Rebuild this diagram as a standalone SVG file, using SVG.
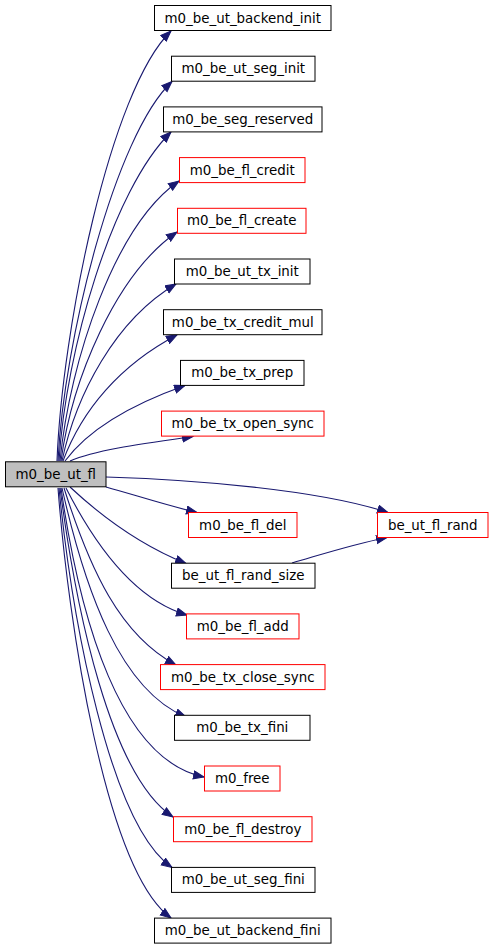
<svg xmlns="http://www.w3.org/2000/svg" width="493" height="949" viewBox="0 0 493 949">
<defs>
<style>
.n rect{fill:#ffffff;stroke:#000000;stroke-width:1}
.n.r rect{stroke:#ff0000}
.n.m rect{fill:#bfbfbf}
.n text{font-family:"DejaVu Sans",sans-serif;font-size:13.4px;fill:#000000;text-anchor:middle}
#edges path{fill:none;stroke:#191970;stroke-width:1.1;marker-end:url(#ah)}
</style>
<marker id="ah" markerUnits="userSpaceOnUse" markerWidth="13" markerHeight="10" refX="11" refY="4.5" orient="auto">
<path d="M0.5,0.5 L11,4.5 L0.5,8.5 z" fill="#191970" stroke="#191970" stroke-width="1"/>
</marker>
</defs>
<rect width="493" height="949" fill="#ffffff"/>
<g id="edges">
<path d="M57,461 C62,330 110,90 171,31"/>
<path d="M58,461 C64,340 115,135 172,81.5"/>
<path d="M59,461 C66,350 112,190 171,132"/>
<path d="M60,461 C70,360 115,225 179,181"/>
<path d="M61,461 C72,380 115,275 177,232"/>
<path d="M62,461 C76,395 115,320 176,284"/>
<path d="M63,461 C82,410 120,365 177,335"/>
<path d="M65,461 C88,430 130,405 185,385.5"/>
<path d="M70,461 C95,450 140,444 193,436.5"/>
<path d="M106,487 C135,495 165,505 197,512.5"/>
<path d="M106,477 C200,480 320,490 388,512.5"/>
<path d="M70,487 C100,515 140,545 186,563.5"/>
<path d="M66,488 C95,545 135,600 187,615"/>
<path d="M64,488 C90,570 120,635 176,665"/>
<path d="M62,488 C85,590 120,690 186,717"/>
<path d="M61,488 C80,620 120,760 204,777"/>
<path d="M60,488 C76,610 110,775 173,817"/>
<path d="M59,488 C72,620 110,825 172,867.5"/>
<path d="M58,488 C68,620 105,870 171,918"/>
<path d="M292,563 C320,555 350,545 387,537.5"/>
</g>
<g id="m0_be_ut_fl" class="n m"><rect x="5.5" y="461.8" width="100.5" height="25"/><text x="55.75" y="478.8">m0_be_ut_fl</text></g>
<g id="m0_be_ut_backend_init" class="n"><rect x="154.5" y="5.5" width="176.5" height="25"/><text x="242.75" y="22.5">m0_be_ut_backend_init</text></g>
<g id="m0_be_ut_seg_init" class="n"><rect x="171.5" y="56.2" width="143.5" height="25"/><text x="243.25" y="73.2">m0_be_ut_seg_init</text></g>
<g id="m0_be_seg_reserved" class="n"><rect x="163.5" y="106.9" width="158.5" height="25"/><text x="242.75" y="123.9">m0_be_seg_reserved</text></g>
<g id="m0_be_fl_credit" class="n r"><rect x="179.5" y="157.6" width="125.5" height="25"/><text x="242.25" y="174.6">m0_be_fl_credit</text></g>
<g id="m0_be_fl_create" class="n r"><rect x="177.5" y="208.3" width="128.5" height="25"/><text x="241.75" y="225.3">m0_be_fl_create</text></g>
<g id="m0_be_ut_tx_init" class="n"><rect x="174.5" y="259" width="135.5" height="25"/><text x="242.25" y="276">m0_be_ut_tx_init</text></g>
<g id="m0_be_tx_credit_mul" class="n"><rect x="163.5" y="309.7" width="158.5" height="25"/><text x="242.75" y="326.7">m0_be_tx_credit_mul</text></g>
<g id="m0_be_tx_prep" class="n"><rect x="180.5" y="360.4" width="123.5" height="25"/><text x="242.25" y="377.4">m0_be_tx_prep</text></g>
<g id="m0_be_tx_open_sync" class="n r"><rect x="161.5" y="411.1" width="162.5" height="25"/><text x="242.75" y="428.1">m0_be_tx_open_sync</text></g>
<g id="m0_be_fl_del" class="n r"><rect x="188.5" y="512.5" width="108.5" height="25"/><text x="242.75" y="529.5">m0_be_fl_del</text></g>
<g id="be_ut_fl_rand" class="n r"><rect x="377.5" y="512.5" width="110.5" height="25"/><text x="432.75" y="529.5">be_ut_fl_rand</text></g>
<g id="be_ut_fl_rand_size" class="n"><rect x="171.5" y="563.2" width="143.5" height="25"/><text x="243.25" y="580.2">be_ut_fl_rand_size</text></g>
<g id="m0_be_fl_add" class="n r"><rect x="186.5" y="613.9" width="112.5" height="25"/><text x="242.75" y="630.9">m0_be_fl_add</text></g>
<g id="m0_be_tx_close_sync" class="n r"><rect x="160.5" y="664.6" width="164.5" height="25"/><text x="242.75" y="681.6">m0_be_tx_close_sync</text></g>
<g id="m0_be_tx_fini" class="n"><rect x="174.5" y="715.3" width="135.5" height="25"/><text x="242.25" y="732.3">m0_be_tx_fini</text></g>
<g id="m0_free" class="n r"><rect x="204.5" y="766" width="75.5" height="25"/><text x="242.25" y="783">m0_free</text></g>
<g id="m0_be_fl_destroy" class="n r"><rect x="173.5" y="816.7" width="138.5" height="25"/><text x="242.75" y="833.7">m0_be_fl_destroy</text></g>
<g id="m0_be_ut_seg_fini" class="n"><rect x="171.5" y="867.4" width="143.5" height="25"/><text x="243.25" y="884.4">m0_be_ut_seg_fini</text></g>
<g id="m0_be_ut_backend_fini" class="n"><rect x="154.5" y="918.1" width="176.5" height="25"/><text x="242.75" y="935.1">m0_be_ut_backend_fini</text></g>
</svg>
